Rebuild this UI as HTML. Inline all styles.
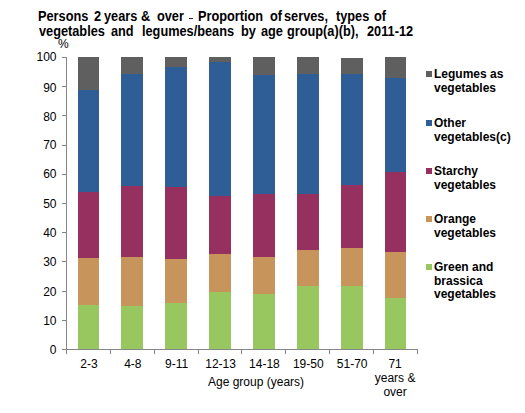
<!DOCTYPE html>
<html><head><meta charset="utf-8"><style>
html,body{margin:0;padding:0;background:#fff;}
body{width:525px;height:413px;position:relative;overflow:hidden;font-family:"Liberation Sans",sans-serif;color:#000;}
.r{position:absolute;}
.t{position:absolute;white-space:nowrap;}
.yl{left:0;width:56.5px;text-align:right;font-size:12px;line-height:14px;}
.xl{width:60px;text-align:center;font-size:12px;line-height:14px;}
.ti{font-size:14px;font-weight:bold;line-height:14px;transform:scaleX(0.91);transform-origin:0 0;}
.lg{font-size:12px;font-weight:bold;line-height:13.7px;}
</style></head><body>
<div class="r" style="left:78px;top:57px;width:21px;height:33px;background:#5f5f5f"></div>
<div class="r" style="left:78px;top:90px;width:21px;height:102px;background:#2f5e97"></div>
<div class="r" style="left:78px;top:192px;width:21px;height:66px;background:#96305f"></div>
<div class="r" style="left:78px;top:258px;width:21px;height:47px;background:#c7955b"></div>
<div class="r" style="left:78px;top:305px;width:21px;height:44px;background:#98c760"></div>
<div class="r" style="left:121px;top:57px;width:22px;height:17px;background:#5f5f5f"></div>
<div class="r" style="left:121px;top:74px;width:22px;height:112px;background:#2f5e97"></div>
<div class="r" style="left:121px;top:186px;width:22px;height:71px;background:#96305f"></div>
<div class="r" style="left:121px;top:257px;width:22px;height:49px;background:#c7955b"></div>
<div class="r" style="left:121px;top:306px;width:22px;height:43px;background:#98c760"></div>
<div class="r" style="left:165px;top:57px;width:22px;height:10px;background:#5f5f5f"></div>
<div class="r" style="left:165px;top:67px;width:22px;height:120px;background:#2f5e97"></div>
<div class="r" style="left:165px;top:187px;width:22px;height:72px;background:#96305f"></div>
<div class="r" style="left:165px;top:259px;width:22px;height:44px;background:#c7955b"></div>
<div class="r" style="left:165px;top:303px;width:22px;height:46px;background:#98c760"></div>
<div class="r" style="left:209px;top:57px;width:22px;height:5px;background:#5f5f5f"></div>
<div class="r" style="left:209px;top:62px;width:22px;height:134px;background:#2f5e97"></div>
<div class="r" style="left:209px;top:196px;width:22px;height:58px;background:#96305f"></div>
<div class="r" style="left:209px;top:254px;width:22px;height:38px;background:#c7955b"></div>
<div class="r" style="left:209px;top:292px;width:22px;height:57px;background:#98c760"></div>
<div class="r" style="left:253px;top:57px;width:22px;height:18px;background:#5f5f5f"></div>
<div class="r" style="left:253px;top:75px;width:22px;height:119px;background:#2f5e97"></div>
<div class="r" style="left:253px;top:194px;width:22px;height:63px;background:#96305f"></div>
<div class="r" style="left:253px;top:257px;width:22px;height:37px;background:#c7955b"></div>
<div class="r" style="left:253px;top:294px;width:22px;height:55px;background:#98c760"></div>
<div class="r" style="left:297px;top:57px;width:22px;height:17px;background:#5f5f5f"></div>
<div class="r" style="left:297px;top:74px;width:22px;height:120px;background:#2f5e97"></div>
<div class="r" style="left:297px;top:194px;width:22px;height:56px;background:#96305f"></div>
<div class="r" style="left:297px;top:250px;width:22px;height:36px;background:#c7955b"></div>
<div class="r" style="left:297px;top:286px;width:22px;height:63px;background:#98c760"></div>
<div class="r" style="left:341px;top:58px;width:22px;height:16px;background:#5f5f5f"></div>
<div class="r" style="left:341px;top:74px;width:22px;height:111px;background:#2f5e97"></div>
<div class="r" style="left:341px;top:185px;width:22px;height:63px;background:#96305f"></div>
<div class="r" style="left:341px;top:248px;width:22px;height:38px;background:#c7955b"></div>
<div class="r" style="left:341px;top:286px;width:22px;height:63px;background:#98c760"></div>
<div class="r" style="left:385px;top:57px;width:21px;height:21px;background:#5f5f5f"></div>
<div class="r" style="left:385px;top:78px;width:21px;height:94px;background:#2f5e97"></div>
<div class="r" style="left:385px;top:172px;width:21px;height:80px;background:#96305f"></div>
<div class="r" style="left:385px;top:252px;width:21px;height:46px;background:#c7955b"></div>
<div class="r" style="left:385px;top:298px;width:21px;height:51px;background:#98c760"></div>
<div class="r" style="left:66px;top:57px;width:1px;height:293px;background:#868686"></div>
<div class="r" style="left:62px;top:349px;width:356px;height:1px;background:#868686"></div>
<div class="r" style="left:62px;top:349px;width:4px;height:1px;background:#868686"></div>
<div class="r" style="left:62px;top:320px;width:4px;height:1px;background:#868686"></div>
<div class="r" style="left:62px;top:291px;width:4px;height:1px;background:#868686"></div>
<div class="r" style="left:62px;top:261px;width:4px;height:1px;background:#868686"></div>
<div class="r" style="left:62px;top:232px;width:4px;height:1px;background:#868686"></div>
<div class="r" style="left:62px;top:203px;width:4px;height:1px;background:#868686"></div>
<div class="r" style="left:62px;top:174px;width:4px;height:1px;background:#868686"></div>
<div class="r" style="left:62px;top:145px;width:4px;height:1px;background:#868686"></div>
<div class="r" style="left:62px;top:115px;width:4px;height:1px;background:#868686"></div>
<div class="r" style="left:62px;top:86px;width:4px;height:1px;background:#868686"></div>
<div class="r" style="left:62px;top:57px;width:4px;height:1px;background:#868686"></div>
<div class="r" style="left:66px;top:349px;width:1px;height:5px;background:#868686"></div>
<div class="r" style="left:110px;top:349px;width:1px;height:5px;background:#868686"></div>
<div class="r" style="left:154px;top:349px;width:1px;height:5px;background:#868686"></div>
<div class="r" style="left:198px;top:349px;width:1px;height:5px;background:#868686"></div>
<div class="r" style="left:241px;top:349px;width:1px;height:5px;background:#868686"></div>
<div class="r" style="left:285px;top:349px;width:1px;height:5px;background:#868686"></div>
<div class="r" style="left:329px;top:349px;width:1px;height:5px;background:#868686"></div>
<div class="r" style="left:373px;top:349px;width:1px;height:5px;background:#868686"></div>
<div class="r" style="left:417px;top:349px;width:1px;height:5px;background:#868686"></div>
<div class="t yl" style="top:50px">100</div>
<div class="t yl" style="top:81px">90</div>
<div class="t yl" style="top:110px">80</div>
<div class="t yl" style="top:138px">70</div>
<div class="t yl" style="top:167px">60</div>
<div class="t yl" style="top:197px">50</div>
<div class="t yl" style="top:226px">40</div>
<div class="t yl" style="top:255px">30</div>
<div class="t yl" style="top:285px">20</div>
<div class="t yl" style="top:314px">10</div>
<div class="t yl" style="top:343px">0</div>
<div class="t xl" style="left:58.9px;top:357px">2-3</div>
<div class="t xl" style="left:102.8px;top:357px">4-8</div>
<div class="t xl" style="left:146.7px;top:357px">9-11</div>
<div class="t xl" style="left:190.6px;top:357px">12-13</div>
<div class="t xl" style="left:234.4px;top:357px">14-18</div>
<div class="t xl" style="left:278.3px;top:357px">19-50</div>
<div class="t xl" style="left:322.2px;top:357px">51-70</div>
<div class="t xl" style="left:365.1px;top:358px;line-height:13.8px">71<br>years &amp;<br>over</div>
<div class="t" style="left:208px;top:375px;font-size:12px">Age group (years)</div>
<div class="t" style="left:58px;top:37px;font-size:12px">%</div>
<div class="r" style="left:189px;top:18px;width:4px;height:1px;background:#222"></div>
<div class="t ti" style="left:38px;top:9px">Persons</div>
<div class="t ti" style="left:94px;top:9px">2</div>
<div class="t ti" style="left:104px;top:9px">years</div>
<div class="t ti" style="left:141px;top:9px">&amp;</div>
<div class="t ti" style="left:157px;top:9px">over</div>
<div class="t ti" style="left:198px;top:9px">Proportion</div>
<div class="t ti" style="left:270px;top:9px">of</div>
<div class="t ti" style="left:284px;top:9px">serves,</div>
<div class="t ti" style="left:336px;top:9px">types</div>
<div class="t ti" style="left:374px;top:9px">of</div>
<div class="t ti" style="left:39px;top:24px">vegetables</div>
<div class="t ti" style="left:111px;top:24px">and</div>
<div class="t ti" style="left:142px;top:24px">legumes/beans</div>
<div class="t ti" style="left:241px;top:24px">by</div>
<div class="t ti" style="left:261px;top:24px">age</div>
<div class="t ti" style="left:287px;top:24px">group(a)(b),</div>
<div class="t ti" style="left:367px;top:24px">2011-12</div>
<div class="r" style="left:426px;top:71px;width:6px;height:6px;background:#5f5f5f"></div>
<div class="t lg" style="left:434px;top:67.8px">Legumes as<br>vegetables</div>
<div class="r" style="left:426px;top:120px;width:6px;height:6px;background:#2f5e97"></div>
<div class="t lg" style="left:434px;top:116.8px">Other<br>vegetables(c)</div>
<div class="r" style="left:426px;top:168px;width:6px;height:6px;background:#96305f"></div>
<div class="t lg" style="left:434px;top:164.8px">Starchy<br>vegetables</div>
<div class="r" style="left:426px;top:216px;width:6px;height:6px;background:#c7955b"></div>
<div class="t lg" style="left:434px;top:212.8px">Orange<br>vegetables</div>
<div class="r" style="left:426px;top:264px;width:6px;height:6px;background:#98c760"></div>
<div class="t lg" style="left:434px;top:260.8px">Green and<br>brassica<br>vegetables</div>
</body></html>
